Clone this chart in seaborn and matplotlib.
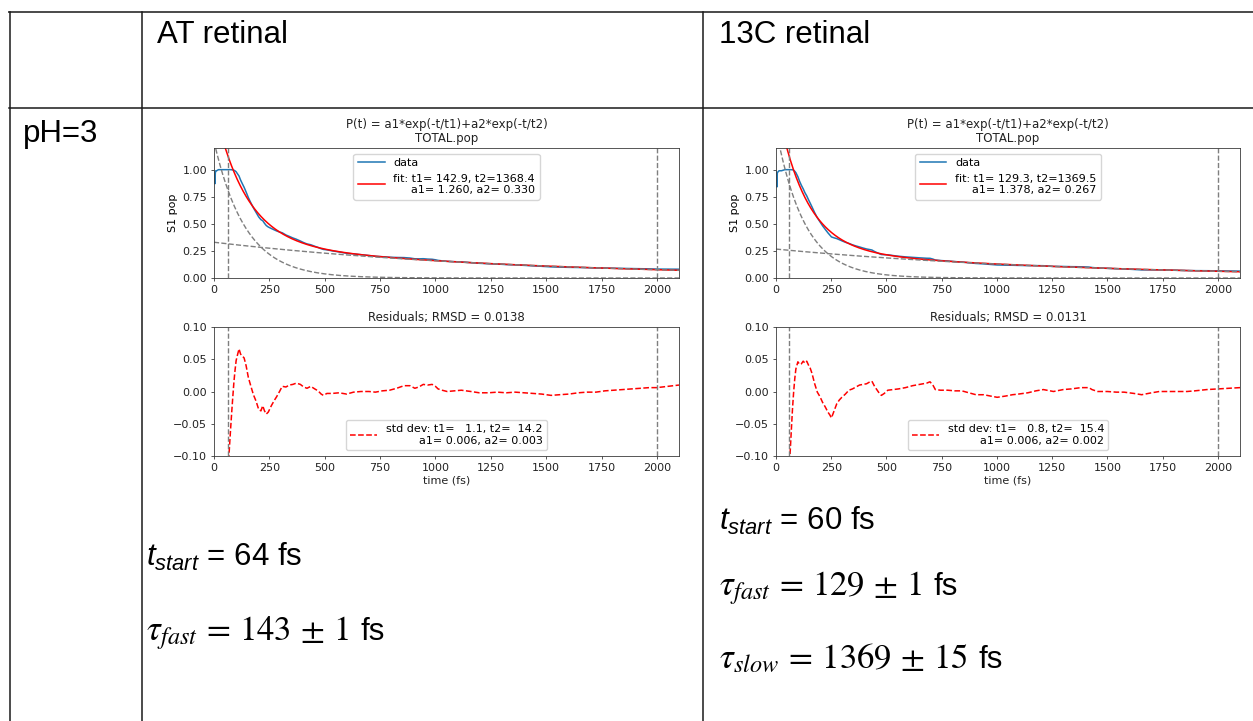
import numpy as np
import pandas as pd
import matplotlib
matplotlib.use("Agg")
import matplotlib.pyplot as plt
from matplotlib.lines import Line2D
import seaborn as sns

# ---------------- data ----------------
col_titles = ["AT retinal", "13C retinal"]
row_title = "pH=3"

# biexponential fit parameters and their std devs
fit_at = dict(a1=1.260, t1=142.9, a2=0.330, t2=1368.4)
sd_at = dict(a1=0.006, t1=1.1, a2=0.003, t2=14.2)
fit_13c = dict(a1=1.378, t1=129.3, a2=0.267, t2=1369.5)
sd_13c = dict(a1=0.006, t1=0.8, a2=0.002, t2=15.4)
t_start_at = 64
t_start_13c = 60
t_end = 2000
rmsd_at = 0.0138
rmsd_13c = 0.0131

# summary values quoted under each plot (value, uncertainty) in fs
tau_fast_at = (143, 1)
tau_fast_13c = (129, 1)
tau_slow_13c = (1369, 15)

# population before the fit window
t_pre_at = [0, 2, 4, 6, 8, 12, 20, 35, 50, 64]
pop_pre_at = [0.98, 0.97, 0.87, 0.97, 0.99, 0.99, 1.00, 1.00, 1.00, 1.00]
t_pre_13c = [0, 2, 4, 6, 9, 14, 25, 40, 50, 60]
pop_pre_13c = [0.98, 0.96, 0.84, 0.97, 0.98, 0.99, 0.99, 1.00, 1.00, 1.00]

# residuals (data - fit) inside the fit window
t_res_at = [64, 70, 75, 80, 85, 90, 95, 100, 107, 113, 120, 128, 136, 145, 155,
            165, 178, 190, 202, 212, 220, 228, 236, 245, 259, 272, 283, 296, 308,
            325, 340, 356, 372, 390, 405, 420, 437, 455, 470, 484, 494, 510, 534,
            565, 599, 630, 664, 700, 729, 760, 793, 825, 858, 885, 907, 925, 945,
            965, 985, 1000, 1012, 1030, 1053, 1085, 1117, 1160, 1198, 1240, 1279,
            1320, 1360, 1400, 1441, 1480, 1522, 1560, 1603, 1645, 1684, 1725, 1765,
            1805, 1846, 1885, 1927, 1965, 2000, 2050, 2100]
res_at = [-0.120, -0.085, -0.058, -0.032, -0.008, 0.015, 0.033, 0.048, 0.058, 0.066,
          0.058, 0.055, 0.052, 0.040, 0.022, 0.010, -0.005, -0.015, -0.028, -0.030,
          -0.022, -0.030, -0.035, -0.032, -0.022, -0.014, -0.008, 0.000, 0.008,
          0.007, 0.010, 0.011, 0.013, 0.011, 0.007, 0.005, 0.008, 0.004, 0.001,
          -0.004, -0.006, -0.003, -0.003, -0.002, -0.004, -0.001, 0.000, 0.000,
          -0.001, 0.001, 0.002, 0.005, 0.009, 0.009, 0.005, 0.007, 0.011, 0.010,
          0.011, 0.008, 0.004, 0.002, 0.000, 0.001, 0.002, 0.000, -0.002, -0.002,
          -0.001, -0.002, -0.001, -0.002, -0.003, -0.004, -0.006, -0.005, -0.004,
          -0.002, -0.001, -0.001, 0.001, 0.002, 0.003, 0.004, 0.005, 0.006, 0.006,
          0.008, 0.010]

t_res_13c = [60, 65, 70, 75, 80, 85, 90, 99, 107, 115, 123, 131, 139, 147, 155, 163,
             175, 187, 199, 211, 223, 235, 243, 251, 263, 275, 287, 298, 314, 330,
             346, 362, 378, 394, 410, 425, 434, 446, 458, 470, 477, 490, 506, 530,
             554, 586, 618, 650, 682, 697, 710, 721, 745, 777, 810, 841, 873, 905,
             940, 970, 1001, 1040, 1070, 1097, 1140, 1176, 1210, 1256, 1300, 1336,
             1380, 1416, 1430, 1456, 1500, 1540, 1575, 1620, 1655, 1700, 1735, 1780,
             1820, 1860, 1895, 1950, 2000, 2050, 2100]
res_13c = [-0.122, -0.088, -0.056, -0.025, 0.000, 0.020, 0.035, 0.046, 0.042, 0.043,
           0.047, 0.044, 0.047, 0.041, 0.036, 0.028, 0.012, -0.001, -0.008, -0.017,
           -0.024, -0.032, -0.036, -0.041, -0.030, -0.019, -0.013, -0.009, -0.004,
           0.002, 0.004, 0.007, 0.010, 0.011, 0.012, 0.015, 0.016, 0.008, 0.002,
           -0.004, -0.006, -0.003, 0.002, 0.003, 0.004, 0.006, 0.009, 0.011, 0.013,
           0.015, 0.010, 0.003, 0.002, 0.002, 0.001, 0.001, -0.002, -0.005, -0.005,
           -0.007, -0.009, -0.007, -0.005, -0.004, -0.002, 0.001, 0.003, 0.000,
           0.003, 0.004, 0.006, 0.006, 0.003, 0.000, 0.000, -0.001, -0.001, -0.003,
           -0.005, -0.002, 0.000, 0.000, 0.000, 0.000, 0.001, 0.003, 0.004, 0.005,
           0.006]

x_ticks = [0, 250, 500, 750, 1000, 1250, 1500, 1750, 2000]
pop_ticks = [0.00, 0.25, 0.50, 0.75, 1.00]
res_ticks = [-0.10, -0.05, 0.00, 0.05, 0.10]

# ---------------- style ----------------
plt.rcParams.update({
    "font.family": ["DejaVu Sans"],
    "mathtext.fontset": "custom",
    "mathtext.rm": "Liberation Sans",
    "mathtext.it": "Liberation Sans:italic",
    "mathtext.bf": "Liberation Sans:bold",
    "mathtext.sf": "Liberation Sans",
    "axes.edgecolor": "#3a3a3a",
    "axes.linewidth": 0.6,
    "xtick.major.width": 0.6,
    "ytick.major.width": 0.6,
    "xtick.major.size": 2.5,
    "ytick.major.size": 2.5,
    "xtick.major.pad": 2.5,
    "ytick.major.pad": 2.5,
    "xtick.color": "#3a3a3a",
    "ytick.color": "#3a3a3a",
    "xtick.labelcolor": "#222222",
    "ytick.labelcolor": "#222222",
    "legend.edgecolor": "0.8",
})

W, H = 1253, 721
fig = plt.figure(figsize=(W / 100, H / 100), dpi=100)
fig.patch.set_facecolor("white")


def fx(px):
    return px / W


def fy(py):
    return 1 - py / H


def add_ax(left, top, right, bottom):
    return fig.add_axes([fx(left), fy(bottom), fx(right) - fx(left), (bottom - top) / H])


def model(t, p):
    return p["a1"] * np.exp(-t / p["t1"]) + p["a2"] * np.exp(-t / p["t2"])


TICK_FS = 8
LEG_FS = 8
TITLE_FS = 8.5
GRAY = "#7f7f7f"
BLUE = "#1f77b4"
RED = "#ff0000"


def draw_panel(left, right, p, sd, t0, t_pre, pop_pre, t_res, res, rmsd):
    t_res = np.asarray(t_res, float)
    res = np.asarray(res, float)
    t_full = np.linspace(0, 2100, 800)

    data = pd.DataFrame({
        "t": np.concatenate([t_pre, t_res[1:]]),
        "pop": np.concatenate([pop_pre, model(t_res[1:], p) + res[1:]]),
    })
    fit = pd.DataFrame({"t": t_full, "pop": model(t_full, p)})

    # ---- population panel ----
    ax = add_ax(left, 148, right, 278)
    sns.lineplot(data=data, x="t", y="pop", ax=ax, color=BLUE, lw=1.1,
                 estimator=None, sort=False, label="data")
    sns.lineplot(data=fit, x="t", y="pop", ax=ax, color=RED, lw=1.1,
                 estimator=None, sort=False,
                 label=f"fit: t1= {p['t1']:.1f}, t2={p['t2']:.1f}\n"
                       f"a1= {p['a1']:.3f}, a2= {p['a2']:.3f}")
    sns.lineplot(x=t_full, y=p["a1"] * np.exp(-t_full / p["t1"]), ax=ax,
                 color=GRAY, lw=1.0, linestyle="--", estimator=None, sort=False)
    sns.lineplot(x=t_full, y=p["a2"] * np.exp(-t_full / p["t2"]), ax=ax,
                 color=GRAY, lw=1.0, linestyle="--", estimator=None, sort=False)
    for xv in (t0, t_end):
        ax.axvline(xv, color=GRAY, lw=1.0, ls="--")
    ax.set_xlim(0, 2100)
    ax.set_ylim(0, 1.2)
    ax.set_xticks(x_ticks)
    ax.set_yticks(pop_ticks)
    ax.set_yticklabels([f"{v:.2f}" for v in pop_ticks])
    ax.tick_params(labelsize=TICK_FS)
    ax.set_xlabel("")
    ax.set_ylabel("S1 pop", fontsize=TICK_FS, labelpad=3)
    ax.set_title("P(t) = a1*exp(-t/t1)+a2*exp(-t/t2)\nTOTAL.pop",
                 fontsize=TITLE_FS, pad=4, color="#222222", linespacing=1.1)
    leg = ax.legend(loc="upper center", fontsize=LEG_FS, handlelength=2.4,
                    borderaxespad=0.5, framealpha=0.8)
    for txt in leg.get_texts():
        txt.set_multialignment("right")

    # ---- residual panel ----
    ax2 = add_ax(left, 327, right, 456)
    sns.lineplot(x=t_res, y=res, ax=ax2, color=RED, lw=1.1, linestyle="--",
                 estimator=None, sort=False,
                 label=f"std dev: t1={sd['t1']:6.1f}, t2={sd['t2']:6.1f}\n"
                       f"a1= {sd['a1']:.3f}, a2= {sd['a2']:.3f}")
    for xv in (t0, t_end):
        ax2.axvline(xv, color=GRAY, lw=1.0, ls="--")
    ax2.set_xlim(0, 2100)
    ax2.set_ylim(-0.1, 0.1)
    ax2.set_xticks(x_ticks)
    ax2.set_yticks(res_ticks)
    ax2.set_yticklabels([f"{v:.2f}".replace("-", "\u2212") for v in res_ticks])
    ax2.tick_params(labelsize=TICK_FS)
    ax2.set_ylabel("")
    ax2.set_xlabel("time (fs)", fontsize=TICK_FS, labelpad=2, color="#222222")
    ax2.set_title(f"Residuals; RMSD = {rmsd:.4f}", fontsize=TITLE_FS, pad=4,
                  color="#222222")
    leg2 = ax2.legend(loc="lower center", fontsize=LEG_FS, handlelength=2.4,
                      borderaxespad=0.5, framealpha=0.8)
    for txt in leg2.get_texts():
        txt.set_multialignment("right")


draw_panel(214, 679, fit_at, sd_at, t_start_at, t_pre_at, pop_pre_at,
           t_res_at, res_at, rmsd_at)
draw_panel(776, 1240, fit_13c, sd_13c, t_start_13c, t_pre_13c, pop_pre_13c,
           t_res_13c, res_13c, rmsd_13c)

# ---------------- table grid ----------------
LINE_C = "#1a1a1a"


def hline(y, x0, x1, lw=1.0, c=LINE_C):
    fig.add_artist(Line2D([fx(x0), fx(x1)], [fy(y), fy(y)], lw=lw, color=c,
                          transform=fig.transFigure))


def vline(x, y0, y1, lw=1.0, c=LINE_C):
    fig.add_artist(Line2D([fx(x), fx(x)], [fy(y0), fy(y1)], lw=lw, color=c,
                          transform=fig.transFigure))


hline(12, 9, W, lw=1.4, c="#4a4a4a")
hline(107.5, 9, W, lw=1.1)
vline(9.5, 12, H, lw=1.1)
vline(142, 12, H, lw=1.1)
vline(702.5, 12, H, lw=1.1)

# ---------------- table text ----------------
CELL_FS = 22.5
MATH_FS = 25
SANS = "Liberation Sans"
fig.text(fx(157), fy(43), col_titles[0], fontsize=CELL_FS, family=SANS, va="baseline")
fig.text(fx(719), fy(43), col_titles[1], fontsize=CELL_FS, family=SANS, va="baseline")
fig.text(fx(23), fy(142), row_title, fontsize=CELL_FS, family=SANS, va="baseline")


def start_text(x, y, val):
    fig.text(fx(x), fy(y), r"$t_{start}$" + f" = {val} fs", fontsize=CELL_FS,
             family=SANS, va="baseline", math_fontfamily="custom")


tau_items = []


def tau_text(x, y, name, val, err):
    t = fig.text(fx(x), fy(y),
                 r"$\tau_{" + name + r"}\,=\," + f"{val}" + r"\,\pm\," + f"{err}$",
                 fontsize=MATH_FS, va="baseline", math_fontfamily="stix")
    tau_items.append((t, y))


start_text(146, 566, t_start_at)
tau_text(146, 640, "fast", *tau_fast_at)

start_text(719, 530, t_start_13c)
tau_text(719, 595, "fast", *tau_fast_13c)
tau_text(719, 668, "slow", *tau_slow_13c)

# unit label follows each math expression
fig.canvas.draw()
renderer = fig.canvas.get_renderer()
for t, y in tau_items:
    bb = t.get_window_extent(renderer)
    fig.text(fx(bb.x1 + 11), fy(y), "fs", fontsize=CELL_FS, family=SANS,
             va="baseline")

fig.savefig("out.png", dpi=100, facecolor="white")
